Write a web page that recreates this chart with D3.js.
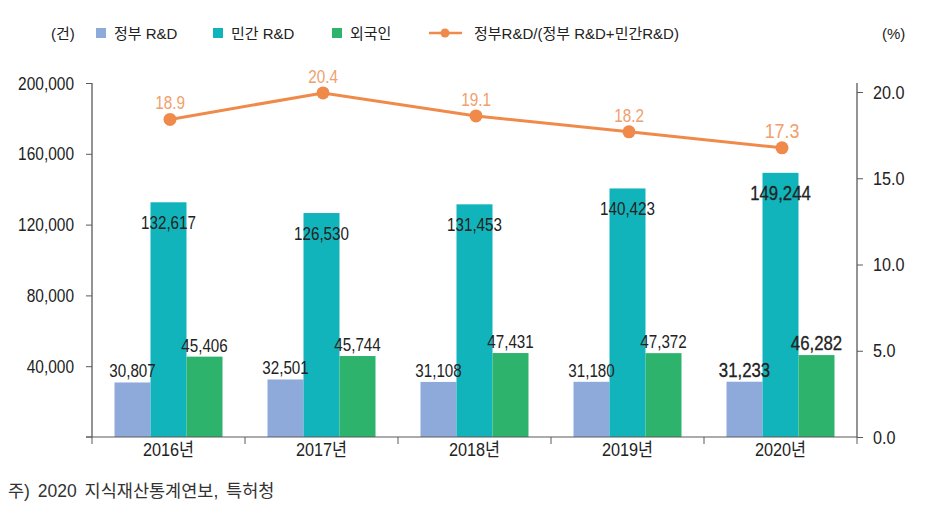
<!DOCTYPE html>
<html><head><meta charset="utf-8">
<script src="https://cdn.jsdelivr.net/npm/d3@7"></script>
<style>
html,body{margin:0;padding:0;background:#fff;}
svg{display:block;font-family:"Liberation Sans","Noto Sans CJK KR",sans-serif;}
</style></head>
<body>
<svg id="chart" width="930" height="513"></svg>
<script>
const years = ["2016년","2017년","2018년","2019년","2020년"];
const seriesNames = ["정부 R&D","민간 R&D","외국인"];
const govRD = [30807,32501,31108,31180,31233];
const privRD = [132617,126530,131453,140423,149244];
const foreignRD = [45406,45744,47431,47372,46282];
const ratio = [18.9,20.4,19.1,18.2,17.3];
const ratioName = "정부R&D/(정부 R&D+민간R&D)";
const leftTicks = [40000,80000,120000,160000,200000];
const rightTicks = [0,5,10,15,20];
const leftUnit = "(건)", rightUnit = "(%)";
const footnote = "주) 2020 지식재산통계연보, 특허청";

const colors = ["#8eaadb","#12b4bb","#2db36c"];
const orange = "#f08a4b", orangeText = "#f0a06c";
const axisColor = "#5a5a5a", textColor = "#222";

const svg = d3.select("#chart");
const L = 92, R = 857, B = 437, T = 83;

const x0 = d3.scaleBand().domain(years).range([L, R]).padding(0);
const groupW = 108;
const x1 = d3.scaleBand().domain(seriesNames).range([(x0.bandwidth()-groupW)/2, (x0.bandwidth()+groupW)/2]).padding(0);
const yL = d3.scaleLinear().domain([0, 200000]).range([B, T]);
const yR = d3.scaleLinear().domain([0, 20]).range([B, 92]);
const yLine = d3.scaleLinear().domain([0, 20]).range([454, 100]);

function ctext(g, x, y, str, o) {
  return g.append("text")
    .attr("transform", `translate(${x},${y}) scale(${o.scale||1},1)`)
    .attr("text-anchor", o.anchor || "middle")
    .attr("font-size", o.size || 16)
    .attr("fill", o.fill || textColor)
    .attr("font-weight", o.weight || "normal")
    .attr("stroke", o.stroke || "none")
    .attr("stroke-width", o.strokeW || 0)
    .text(str);
}

// Bars
const series = [govRD, privRD, foreignRD];
const barG = svg.append("g");
years.forEach((yr, i) => {
  series.forEach((arr, s) => {
    barG.append("rect")
      .attr("x", x0(yr) + x1(seriesNames[s]))
      .attr("y", yL(arr[i]))
      .attr("width", x1.bandwidth())
      .attr("height", B - yL(arr[i]))
      .attr("fill", colors[s]);
  });
});

// Axes
const axL = svg.append("g").attr("transform", `translate(${L},0)`)
  .call(d3.axisLeft(yL).tickValues(leftTicks).tickFormat(d3.format(",")).tickSizeOuter(0).tickSize(6));
axL.select(".domain").attr("d", `M0,${T}V${B}`);
axL.selectAll("text").attr("x", null).attr("dy", null)
  .attr("transform", "translate(-18,6) scale(0.86,1)")
  .attr("font-size", 18).attr("fill", textColor).attr("font-family", null);
axL.append("line").attr("x1", -6).attr("x2", 0).attr("y1", B).attr("y2", B).attr("stroke", axisColor);

const axR = svg.append("g").attr("transform", `translate(${R},0)`)
  .call(d3.axisRight(yR).tickValues(rightTicks).tickFormat(d3.format(".1f")).tickSizeOuter(0).tickSize(6));
axR.select(".domain").attr("d", `M0,${T}V${B}`);
axR.selectAll("text").attr("x", null).attr("dy", null)
  .attr("transform", "translate(16,6) scale(0.9,1)")
  .attr("font-size", 18).attr("fill", textColor).attr("font-family", null);

const axB = svg.append("g").attr("transform", `translate(0,${B})`);
axB.append("line").attr("x1", L - 6).attr("x2", R).attr("y1", 0).attr("y2", 0).attr("stroke", axisColor).attr("stroke-width", 1.2);
years.forEach((yr, i) => {
  axB.append("line").attr("x1", x0(yr)).attr("x2", x0(yr)).attr("y1", 0).attr("y2", 7).attr("stroke", axisColor);
});
axB.append("line").attr("x1", R).attr("x2", R).attr("y1", 0).attr("y2", 7).attr("stroke", axisColor);
years.forEach(yr => {
  ctext(axB, x0(yr) + x0.bandwidth()/2, 19, yr, {size: 18.5, scale: 0.88});
});

[axL, axR].forEach(a => {
  a.selectAll(".domain").attr("stroke", axisColor).attr("stroke-width", 1.3);
  a.selectAll(".tick line").attr("stroke", axisColor);
});

// Bar labels
const lblG = svg.append("g");
years.forEach((yr, i) => {
  const big = i === years.length - 1;
  const o = big ? {size: 21, scale: 0.8, stroke: textColor, strokeW: 0.3} : {size: 19, scale: 0.8};
  const fmt = d3.format(",");
  ctext(lblG, x0(yr) + x1(seriesNames[0]) + x1.bandwidth()/2, yL(govRD[i]) - 5, fmt(govRD[i]), o);
  ctext(lblG, x0(yr) + x1(seriesNames[1]) + x1.bandwidth()/2, yL(privRD[i]) + 27, fmt(privRD[i]), o);
  ctext(lblG, x0(yr) + x1(seriesNames[2]) + x1.bandwidth()/2, yL(foreignRD[i]) - 5, fmt(foreignRD[i]), o);
});

// Line
const cx = (yr) => x0(yr) + x0.bandwidth()/2 + 1.5;
const line = d3.line().x((d, i) => cx(years[i])).y(d => yLine(d));
svg.append("path").datum(ratio).attr("d", line).attr("fill", "none").attr("stroke", orange).attr("stroke-width", 3);
svg.append("g").selectAll("circle").data(ratio).join("circle")
  .attr("cx", (d, i) => cx(years[i])).attr("cy", d => yLine(d)).attr("r", 6.5).attr("fill", orange);
ratio.forEach((v, i) => {
  const big = i === ratio.length - 1;
  ctext(svg, cx(years[i]), yLine(v) - 10, v.toFixed(1), {size: big ? 21 : 18, scale: 0.85, fill: orangeText});
});

// Legend
const lg = svg.append("g");
lg.append("text").attr("x", 51).attr("y", 39).attr("font-size", 15).attr("fill", textColor).text(leftUnit);
const legX = [96, 213, 332];
seriesNames.forEach((n, s) => {
  lg.append("rect").attr("x", legX[s]).attr("y", 28).attr("width", 10).attr("height", 10).attr("fill", colors[s]);
  lg.append("text").attr("x", legX[s] + 18).attr("y", 39).attr("font-size", 15).attr("fill", textColor).text(n);
});
lg.append("line").attr("x1", 429).attr("x2", 462).attr("y1", 33).attr("y2", 33).attr("stroke", orange).attr("stroke-width", 2.5);
lg.append("circle").attr("cx", 445).attr("cy", 33).attr("r", 4.5).attr("fill", orange);
lg.append("text").attr("x", 474).attr("y", 39).attr("font-size", 15).attr("fill", textColor).text(ratioName);
lg.append("text").attr("x", 882).attr("y", 39).attr("font-size", 15).attr("fill", textColor).text(rightUnit);

// Footnote
svg.append("text").attr("x", 8).attr("y", 497).attr("font-size", 17.5).attr("fill", "#333")
  .attr("word-spacing", 3).text(footnote);
</script>
</body></html>
